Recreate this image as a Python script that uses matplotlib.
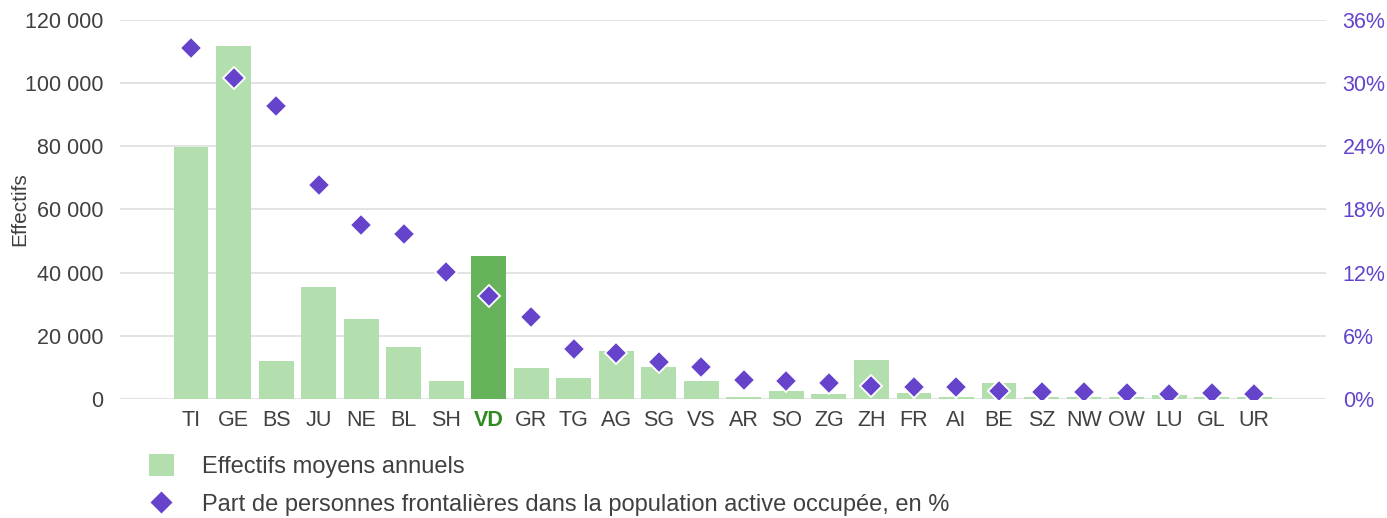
import matplotlib
matplotlib.use('Agg')
from matplotlib import pyplot as plt
from matplotlib.ticker import FuncFormatter, FixedLocator
from matplotlib.patches import Patch
from matplotlib.lines import Line2D

cantons = ['TI', 'GE', 'BS', 'JU', 'NE', 'BL', 'SH', 'VD', 'GR', 'TG', 'AG', 'SG', 'VS', 'AR',
           'SO', 'ZG', 'ZH', 'FR', 'AI', 'BE', 'SZ', 'NW', 'OW', 'LU', 'GL', 'UR']
effectifs = [79700, 111700, 12100, 35300, 25400, 16500, 5700, 45100, 9800, 6700, 15200, 10200,
             5700, 700, 2600, 1600, 12400, 2000, 600, 5100, 600, 600, 600, 1300, 500, 500]
part = [33.3, 30.5, 27.8, 20.3, 16.5, 15.7, 12.1, 9.8, 7.8, 4.7, 4.35, 3.55, 3.0, 1.8,
        1.7, 1.5, 1.27, 1.17, 1.17, 0.8, 0.7, 0.7, 0.6, 0.5, 0.55, 0.5]
highlight = 'VD'

left_ticks = [0, 20000, 40000, 60000, 80000, 100000, 120000]
right_ticks = [0, 6, 12, 18, 24, 30, 36]

light_green = '#b2dfad'
dark_green = '#66b35b'
purple = '#6544cb'
txt = '#404040'

plt.rcParams['font.family'] = ['Liberation Sans', 'DejaVu Sans']

fig = plt.figure(figsize=(13.87, 5.18), dpi=100)
ax = fig.add_axes([120/1387, 1-399/518, (1326-120)/1387, (399-19.7)/518])

x = list(range(len(cantons)))
colors = [dark_green if c == highlight else light_green for c in cantons]
ax.bar(x, effectifs, width=0.82, color=colors, zorder=2)
ax.set_xlim(-1.67, 26.69)
ax.set_ylim(0, 120000)
ax.yaxis.set_major_locator(FixedLocator(left_ticks))
ax.yaxis.set_major_formatter(FuncFormatter(lambda v, p: '{:,.0f}'.format(v).replace(',', ' ')))
ax.grid(axis='y', color='#e3e3e3', linewidth=1.4, zorder=0)
ax.set_axisbelow(True)
for s in ax.spines.values():
    s.set_visible(False)
ax.tick_params(axis='both', length=0, labelsize=15.5, colors=txt)
ax.tick_params(axis='y', pad=12)
ax.tick_params(axis='x', pad=8)
ax.set_xticks(x)
ax.set_xticklabels(cantons)
for lab in ax.get_xticklabels():
    if lab.get_text() == highlight:
        lab.set_color('#2f8a1f')
        lab.set_fontweight('bold')
ax.set_ylabel('Effectifs', fontsize=15, color=txt)
ax.yaxis.set_label_coords(-0.0755, 0.5)

ax2 = ax.twinx()
ax2.set_ylim(0, 36)
ax2.yaxis.set_major_locator(FixedLocator(right_ticks))
ax2.yaxis.set_major_formatter(FuncFormatter(lambda v, p: '{:.0f}%'.format(v)))
ax2.tick_params(axis='y', length=0, labelsize=15.5, colors=purple, pad=12)
for s in ax2.spines.values():
    s.set_visible(False)
ax2.plot(x, part, linestyle='none', marker='D', markersize=11, color=purple,
         markeredgecolor='white', markeredgewidth=1.3, zorder=3)

handles = [Patch(facecolor=light_green, edgecolor='none'),
           Line2D([], [], linestyle='none', marker='D', markersize=12, color=purple,
                  markeredgecolor='white', markeredgewidth=1.0)]
labels = ['Effectifs moyens annuels',
          'Part de personnes frontalières dans la population active occupée, en %']
leg = fig.legend(handles, labels, loc='upper left', bbox_to_anchor=(140/1387, 1-445/518),
                 frameon=False, fontsize=17, handlelength=1.02, handleheight=1.02,
                 handletextpad=1.19, labelspacing=0.59, borderaxespad=0)
for t in leg.get_texts():
    t.set_color(txt)

fig.savefig('out.png', dpi=100)
